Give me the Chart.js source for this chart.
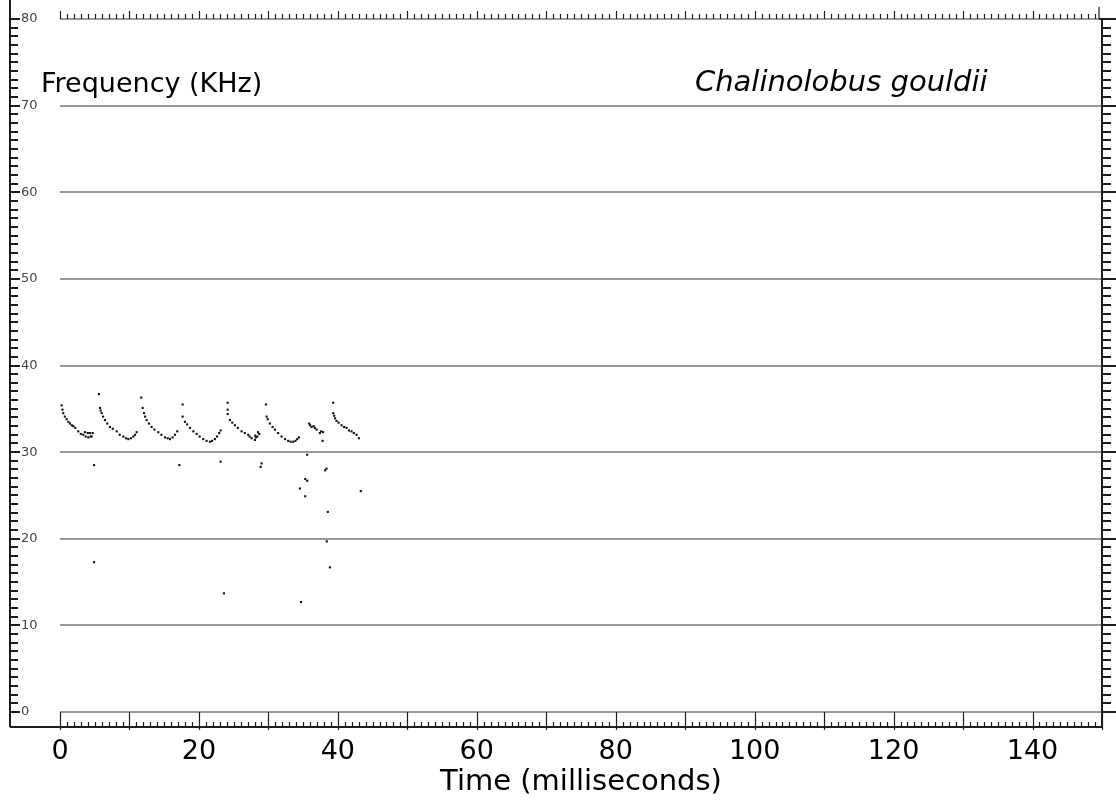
<!DOCTYPE html>
<html>
<head>
<meta charset="utf-8">
<title>Chalinolobus gouldii</title>
<script src="https://cdn.jsdelivr.net/npm/chart.js@4.4.1/dist/chart.umd.min.js"></script>
<style>
    html, body { margin: 0; padding: 0; background: #fff; }
    #chart { display: block; }
</style>
</head>
<body>
<canvas id="chart" width="1116" height="800"></canvas>
<script>
// ── Data ─────────────────────────────────────────────────────────────────────

const speciesName = 'Chalinolobus gouldii';
const freqLabel   = 'Frequency (KHz)';
const timeLabel   = 'Time (milliseconds)';

const timeRange = [0, 150];   // ms
const freqRange = [0, 80];    // kHz

// echolocation calls, ms
const callTimes = [
    0.24, 0.35, 0.47, 0.7, 0.96, 1.2, 1.44, 1.7, 1.91, 2.2, 2.63, 3.0, 3.35, 3.6, 3.7, 4.0, 4.07, 4.3, 4.4, 4.56, 4.7,
    5.6, 5.76, 5.85, 6.0, 6.2, 6.47, 6.8, 7.19, 7.6, 8.16, 8.6, 9.11, 9.5, 9.83, 10.2, 10.55, 10.8, 11.04,
    11.7, 11.9, 12.09, 12.25, 12.47, 12.8, 13.19, 13.6, 14.15, 14.6, 15.11, 15.5, 15.83, 16.2, 16.55, 16.88,
    17.65, 17.65, 17.99, 18.3, 18.71, 19.2, 19.67, 20.1, 20.62, 21.1, 21.58, 21.9, 22.3, 22.6, 22.92, 23.12,
    24.13, 24.13, 24.13, 24.46, 24.8, 25.18, 25.6, 26.14, 26.6, 27.09, 27.3, 27.58, 28.06, 28.1, 28.2, 28.39, 28.5, 28.68,
    29.64, 29.74, 29.9, 30.22, 30.6, 30.94, 31.4, 31.9, 32.4, 32.85, 33.2, 33.57, 33.9, 34.15, 34.39,
    35.87, 36.0, 36.22, 36.5, 36.69, 36.94, 37.41, 37.6, 37.88, 37.8,
    39.33, 39.33, 39.47, 39.6, 39.81, 40.1, 40.53, 40.9, 41.25, 41.6, 41.97, 42.3, 42.69, 43.02
];
// echolocation calls, kHz
const callFreqs = [
    35.4, 34.9, 34.5, 34.1, 33.8, 33.5, 33.3, 33.1, 33.0, 32.8, 32.4, 32.1, 32.0, 32.3, 31.8, 32.2, 31.7, 32.2, 31.8, 31.8, 32.2,
    36.7, 35.1, 34.8, 34.5, 34.1, 33.7, 33.3, 32.9, 32.7, 32.4, 32.0, 31.8, 31.6, 31.5, 31.6, 31.8, 32.0, 32.3,
    36.3, 35.1, 34.5, 34.1, 33.7, 33.3, 32.9, 32.6, 32.3, 32.0, 31.7, 31.6, 31.5, 31.7, 32.0, 32.4,
    35.5, 34.1, 33.5, 33.2, 32.8, 32.4, 32.1, 31.8, 31.5, 31.3, 31.2, 31.3, 31.5, 31.8, 32.2, 32.5,
    35.7, 34.9, 34.4, 33.7, 33.4, 33.1, 32.8, 32.4, 32.2, 32.0, 31.8, 31.6, 31.4, 31.9, 31.7, 31.8, 32.3, 32.1,
    35.5, 34.1, 33.8, 33.3, 32.9, 32.6, 32.2, 31.8, 31.5, 31.3, 31.2, 31.2, 31.3, 31.5, 31.7,
    33.3, 33.1, 32.9, 33.0, 32.8, 32.6, 32.2, 32.4, 32.3, 31.3,
    35.7, 34.5, 34.2, 33.9, 33.6, 33.4, 33.1, 32.9, 32.8, 32.5, 32.4, 32.2, 32.0, 31.6
];

// stray dots below the calls
const strayTimes = [4.9, 4.9, 17.17, 23.12, 23.6, 29.02, 28.88, 35.58, 38.17, 38.37, 35.3, 35.58, 34.53, 35.3, 38.56, 43.3, 38.4, 38.85, 34.7];
const strayFreqs = [28.5, 17.3, 28.5, 28.9, 13.7, 28.7, 28.3, 29.7, 27.9, 28.1, 26.9, 26.7, 25.8, 24.9, 23.1, 25.5, 19.7, 16.7, 12.7];

// ── Helpers ──────────────────────────────────────────────────────────────────

const FONT = "'DejaVu Sans', Verdana, sans-serif";

function toPoints(xs, ys) {
    return xs.map((t, i) => ({ x: t, y: ys[i] }));
}

function stroke(ctx, x1, y1, x2, y2) {
    ctx.beginPath();
    ctx.moveTo(x1, y1);
    ctx.lineTo(x2, y2);
    ctx.stroke();
}

// rulers round the plot, drawn from the chart's own scales
const rulers = {
    id: 'rulers',
    beforeDatasetsDraw(chart) {
        const { ctx, chartArea: a, scales: { x, y } } = chart;
        const leftX = a.left - 50;
        const baseY = a.bottom + 15;
        const [t0, t1] = timeRange;
        const [f0, f1] = freqRange;

        ctx.save();
        ctx.strokeStyle = '#1e1e1e';

        // left + right frequency rulers
        ctx.lineWidth = 2;
        stroke(ctx, leftX, 0, leftX, baseY);
        stroke(ctx, a.right, a.top, a.right, baseY);
        stroke(ctx, a.right - 3, a.top, chart.width, a.top);
        for (let v = f0; v <= f1; v++) {
            const yy = Math.round(y.getPixelForValue(v));
            const major = v % 10 === 0;
            stroke(ctx, leftX, yy, leftX + (major ? 10 : 8), yy);
            stroke(ctx, a.right, yy, a.right + (major ? 14 : 9), yy);
        }

        // bottom time ruler
        stroke(ctx, leftX, baseY, a.right, baseY);
        ctx.lineWidth = 1.2;
        for (let t = t0; t <= t1; t++) {
            const xx = Math.round(x.getPixelForValue(t)) + 0.5;
            if (t % 10 === 0) {
                stroke(ctx, xx, a.bottom, xx, baseY);
                stroke(ctx, xx, baseY, xx, baseY + 3);
            } else {
                stroke(ctx, xx, baseY - 5, xx, baseY);
            }
        }

        // top time ruler
        for (let t = t0; t < t1; t++) {
            const xx = Math.round(x.getPixelForValue(t)) + 0.5;
            stroke(ctx, xx, a.top, xx, a.top - (t % 10 === 0 ? 8 : 5));
        }
        stroke(ctx, a.right - 3, a.top, a.right - 3, a.top - 12);

        // captions
        ctx.fillStyle = '#000';
        ctx.textBaseline = 'alphabetic';
        ctx.textAlign = 'left';
        ctx.font = `27px ${FONT}`;
        ctx.fillText(freqLabel, a.left - 19, 92);
        ctx.font = `italic 29px ${FONT}`;
        ctx.fillText(speciesName, x.getPixelForValue(91.4), 91);
        ctx.restore();
    }
};

// ── Chart ────────────────────────────────────────────────────────────────────

Chart.defaults.font.family = FONT;

new Chart(document.getElementById('chart'), {
    type: 'scatter',
    data: {
        datasets: [
            { label: 'Calls', data: toPoints(callTimes, callFreqs),
              backgroundColor: '#111', borderWidth: 0, pointStyle: 'rect', pointRadius: 1.5 },
            { label: 'Stray', data: toPoints(strayTimes, strayFreqs),
              backgroundColor: '#111', borderWidth: 0, pointStyle: 'rect', pointRadius: 1.5 }
        ]
    },
    options: {
        responsive: false,
        animation: false,
        devicePixelRatio: 1,
        layout: { padding: { left: 21, right: 14, top: 19, bottom: 0 } },
        plugins: { legend: { display: false }, tooltip: { enabled: false } },
        scales: {
            x: {
                type: 'linear',
                min: timeRange[0], max: timeRange[1],
                afterFit: s => { s.height = 88; },
                grid: { display: false, drawTicks: false },
                border: { display: false },
                ticks: { stepSize: 20, includeBounds: false, padding: 24, color: '#000',
                         maxRotation: 0, font: { size: 27 } },
                title: { display: true, text: timeLabel, color: '#000',
                         font: { size: 29 }, padding: { top: 0, bottom: 0 } }
            },
            y: {
                type: 'linear',
                min: freqRange[0], max: freqRange[1],
                afterFit: s => { s.width = 39; },
                grid: { color: '#999', lineWidth: 2, drawTicks: false },
                border: { display: false },
                ticks: { stepSize: 10, crossAlign: 'far', padding: 0, color: '#444',
                         font: { size: 13 } }
            }
        }
    },
    plugins: [rulers]
});
</script>
</body>
</html>
